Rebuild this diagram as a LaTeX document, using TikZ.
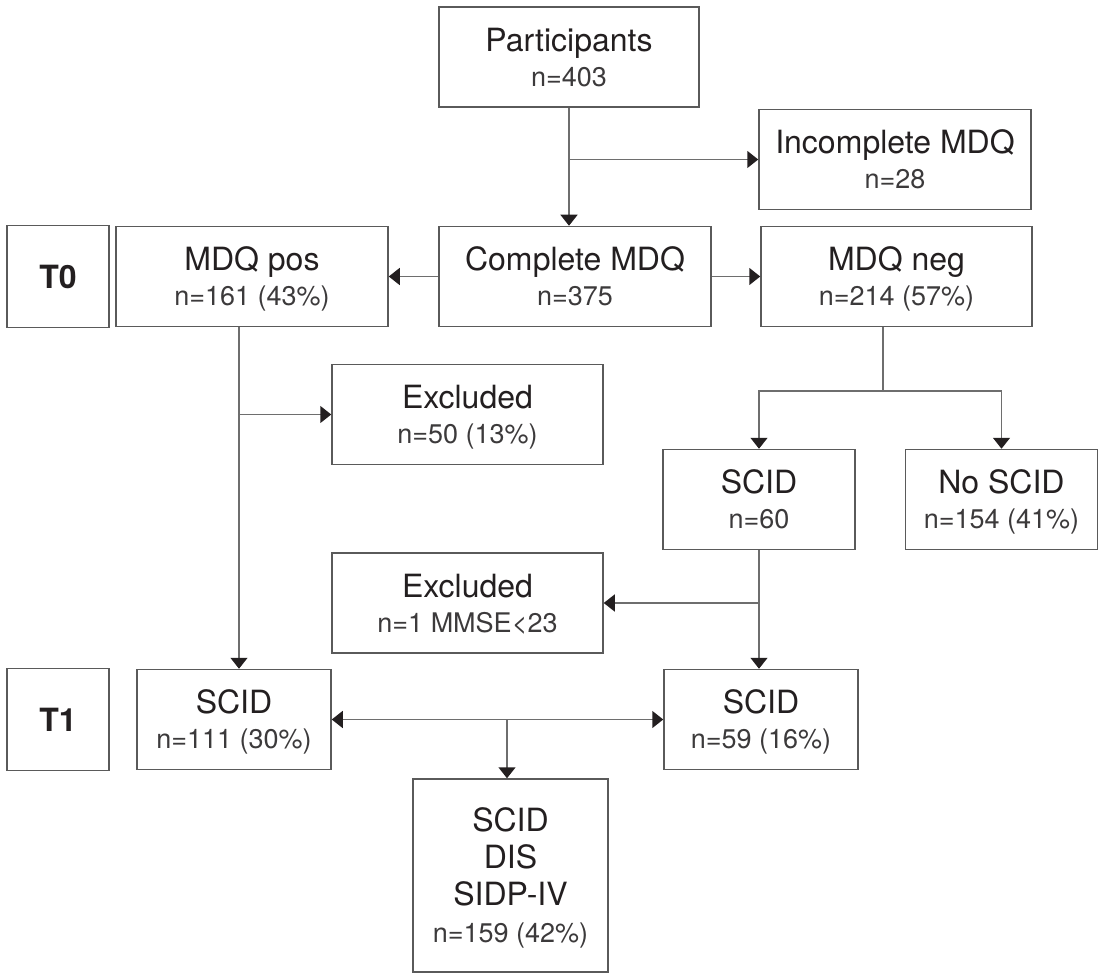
\documentclass[tikz,border=0pt]{standalone}
\usepackage{fontspec}
\setmainfont{TeX Gyre Heros}
\usepackage{tikz}
\usetikzlibrary{arrows.meta}
\usetikzlibrary{positioning}

\definecolor{inkdark}{HTML}{231F20}
\definecolor{inksub}{HTML}{3C3A3B}
\definecolor{linegray}{HTML}{6E6E6E}
\definecolor{boxgray}{HTML}{5A5A5A}

\newcommand{\countline}[1]{{\fontsize{13.5}{17.5}\selectfont\color{inksub}#1}}

\tikzset{
  box/.style={rectangle, draw=boxgray, line width=0.75pt, text=inkdark, align=center,
    inner sep=0pt, minimum height=50pt, text depth=-8pt, font=\fontsize{16}{17.5}\selectfont},
  tbox/.style={box, minimum width=51pt, minimum height=51pt, text depth=0pt, font=\fontsize{16}{17.5}\selectfont\bfseries},
  line/.style={draw=linegray, line width=0.75pt},
  arr/.style={line, -{Triangle[width=8.5pt, length=5.5pt, color=inkdark]}},
  arrboth/.style={line, {Triangle[width=8.5pt, length=5.5pt, color=inkdark]}-{Triangle[width=8.5pt, length=5.5pt, color=inkdark]}}
}

\begin{document}
\begin{tikzpicture}[x=0.5pt, y=-0.5pt]
\useasboundingbox (0,0) rectangle (1108,973);

% time points
\node [tbox] (T0) at (58,276.5) {T0};
\node [tbox] (T1) at (58,719.5) {T1};

% T0 boxes
\node [box, minimum width=130pt] (part) at (569,57) {Participants\\\countline{n=403}};
\node [box, minimum width=136pt] (incomp) at (895,159.5) {Incomplete MDQ\\\countline{n=28}};
\node [box, minimum width=136pt] (comp) at (575,276.5) {Complete MDQ\\\countline{n=375}};
\node [box, minimum width=136pt] (pos) at (252,276.5) {MDQ pos\\\countline{n=161 (43\%)}};
\node [box, minimum width=135.5pt] (neg) at (896.5,276.5) {MDQ neg\\\countline{n=214 (57\%)}};
\node [box, minimum width=135.5pt] (excl1) at (467.5,414.5) {Excluded\\\countline{n=50 (13\%)}};
\node [box, minimum width=96pt] (scidA) at (759,499.5) {SCID\\\countline{n=60}};
\node [box, minimum width=96pt] (noscid) at (1001.5,499.5) {No SCID\\\countline{n=154 (41\%)}};
\node [box, minimum width=135.5pt] (excl2) at (467.5,603) {Excluded\\\countline{n=1 MMSE<23}};

% T1 boxes
\node [box, minimum width=97pt] (scidpos) at (234,719.5) {SCID\\\countline{n=111 (30\%)}};
\node [box, minimum width=97pt] (scidneg) at (761,719.5) {SCID\\\countline{n=59 (16\%)}};
\node [box, minimum width=97.5pt, minimum height=96.5pt, font=\fontsize{16}{18.5}\selectfont] (total) at (510.5,875.5)
  {SCID\\DIS\\SIDP-IV\\{\fontsize{13.5}{18.5}\selectfont\color{inksub}n=159 (42\%)}};

% branch points
\coordinate (posline) at (239,327);
\coordinate (negsplit) at (883,391);
\coordinate (midpt) at (507,719.5);

% connectors
\draw [arr] (part) -- (part |- comp.north);
\draw [arr] (part |- incomp) -- (incomp);
\draw [arr] (comp) -- (pos);
\draw [arr] (comp) -- (neg);
\draw [arr] (posline) -- (posline |- scidpos.north);
\draw [arr] (posline |- excl1) -- (excl1);
\draw [line] (neg.south -| negsplit) -- (negsplit);
\draw [arr] (negsplit) -| (scidA);
\draw [arr] (negsplit) -| (noscid);
\draw [arr] (scidA) -- (scidA |- scidneg.north);
\draw [arr] (scidA |- excl2) -- (excl2);
\draw [arrboth] (scidpos) -- (scidneg);
\draw [arr] (midpt) -- (midpt |- total.north);
\end{tikzpicture}
\end{document}
